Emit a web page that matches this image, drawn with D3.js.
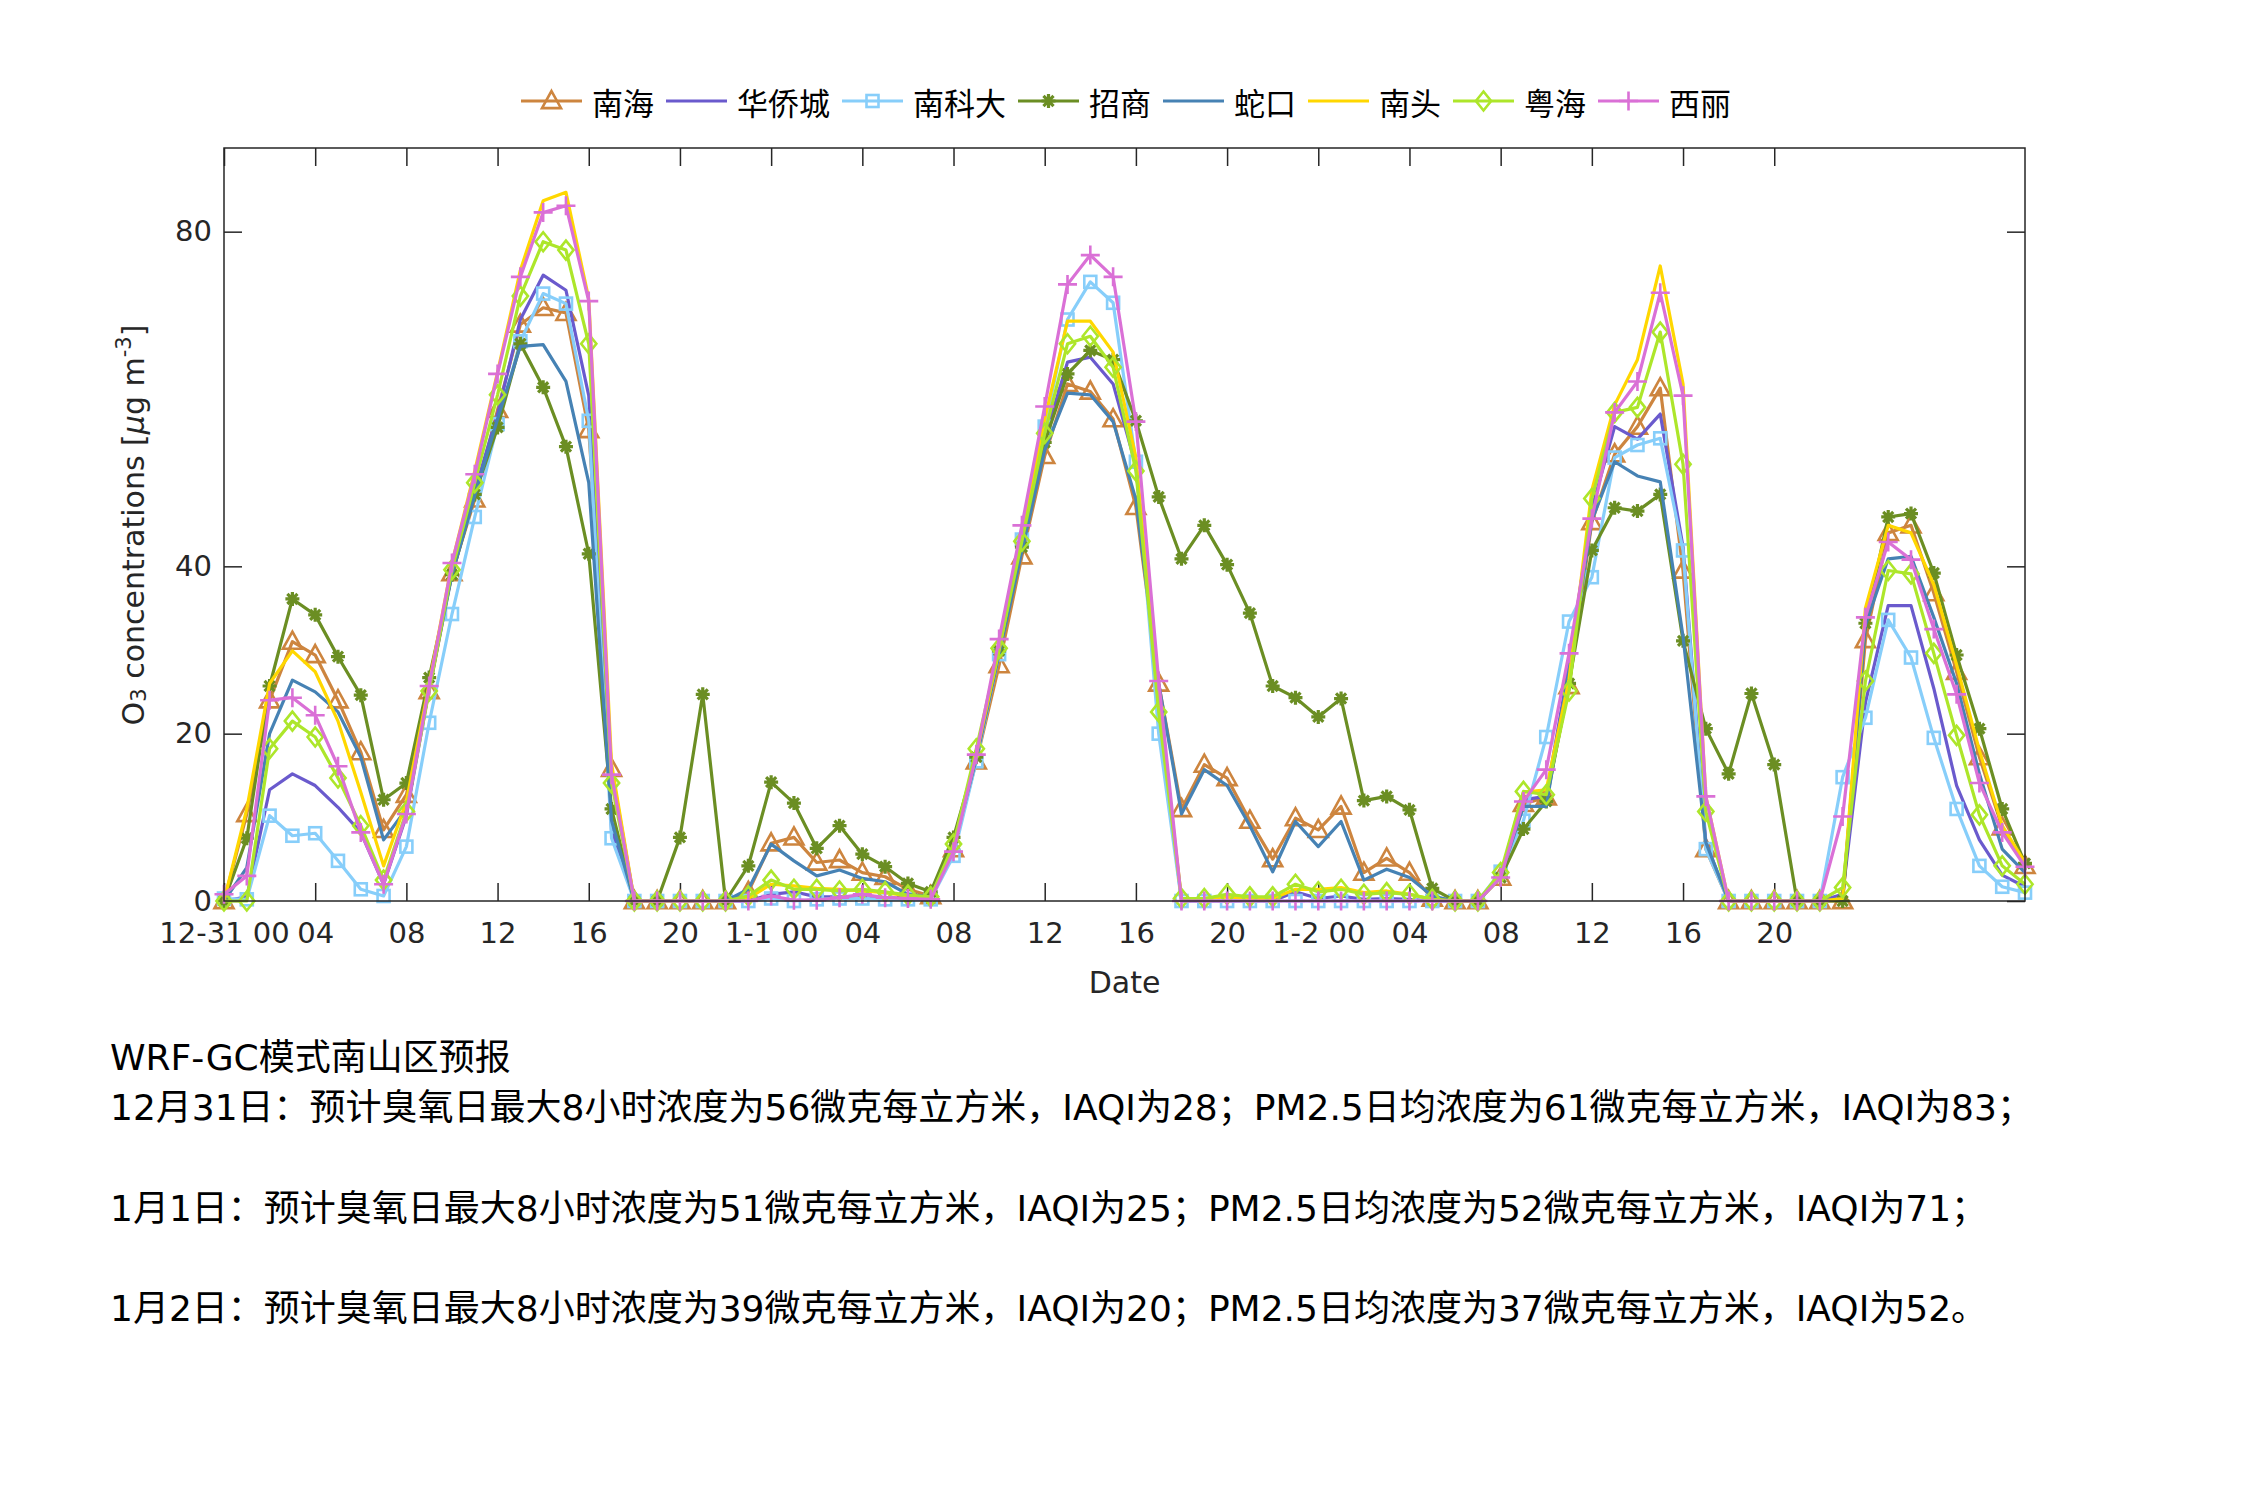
<!DOCTYPE html>
<html>
<head>
<meta charset="utf-8">
<script src="https://cdn.jsdelivr.net/npm/d3@7"></script>
<style>
  html, body { margin: 0; padding: 0; background: #fff; }
  svg { display: block; }
  text { font-family: "DejaVu Sans", "Noto Sans CJK SC", sans-serif; fill: #262626; }
  .cjk { font-family: "Noto Sans CJK SC", "Noto Sans", sans-serif; fill: #000; }
  .note { font-family: "DejaVu Sans", "Noto Sans CJK SC", sans-serif; fill: #000; }
</style>
</head>
<body>
<svg id="chart" width="2250" height="1500"></svg>
<script>
// ---------------- data ----------------
const hours = d3.range(80); // hourly steps from 12-31 00
const xTickValues = [0, 4, 8, 12, 16, 20, 24, 28, 32, 36, 40, 44, 48, 52, 56, 60, 64, 68];
const xTickLabels = ["12-31 00", "04", "08", "12", "16", "20", "1-1 00", "04", "08", "12", "16", "20", "1-2 00", "04", "08", "12", "16", "20"];
const yTickValues = [0, 20, 40, 80];

const seriesNames = ["南海", "华侨城", "南科大", "招商", "蛇口", "南头", "粤海", "西丽"];

const nanhai = [0,10.4,24,31,29.4,24,17.8,8.5,12.7,25.1,39.2,48,58.7,68.9,70.9,70.3,56.3,15.8,0,0,
  0,0,0,1.1,6.9,7.6,4.6,4.9,3.4,2.9,1.4,0.6,6.2,16.7,28.2,41.2,53.2,61.8,60.9,57.6,
  47.1,26,11,16.3,14.7,9.6,5.0,9.9,8.5,11.3,3.4,5.1,3.4,0.3,0,0,2.8,11.6,12.4,25.7,
  45.3,53.4,56.7,61.3,39.5,6.2,0,0,0,0,0,0,31.2,44,44.9,36.8,27.4,17.2,8.8,4.2];
const huaqiaocheng = [0,0.5,13.3,15.2,13.8,11.2,8.2,2,10.2,25.4,39.5,49,58.2,69.5,74.8,73,60.4,8.5,0,0,
  0,0,0,0,0.8,1.1,0.5,0.5,0.5,0.4,0.3,0.2,6.3,17,29.8,43,55.3,64.4,65,61.8,
  52,23,0,0,0,0,0,1.1,0.3,0.6,0.2,0.3,0.2,0,0,0,3,12.1,12.5,28.2,
  46.9,56.7,55.2,58.2,42.3,7,0,0,0,0,0,0.8,23.7,35.3,35.3,25.4,13.8,7.3,3.1,1.7];
const nankeda = [0.3,0.2,10.2,7.8,8.1,4.8,1.4,0.6,6.5,21.3,34.3,45.9,57,66.9,72.6,71.4,57.4,7.5,0,0,
  0,0,0,0,0.3,0,0.2,0.3,0.3,0.2,0.2,0.2,5.4,16.7,29.5,43.2,56.7,69.5,74,71.5,
  52.5,20,0,0,0,0,0,0,0,0,0,0,0,0,0,0,3.5,9.6,19.6,33.4,
  38.7,53,54.5,55.3,41.9,6.2,0,0,0,0,0,14.8,21.9,33.6,29.1,19.5,11,4.2,1.7,1.0];
const zhaoshang = [0,7.5,25.7,36.1,34.2,29.2,24.6,12.1,14.1,26.7,39,48.6,56.6,66.6,61.4,54.3,41.5,11,0,0,
  7.6,24.7,0,4.2,14.2,11.7,6.3,9.0,5.6,4.1,2.1,1.1,7.6,17.2,29.9,42.3,54.8,63,65.8,64.7,
  57.4,48.3,40.9,44.9,40.2,34.4,25.7,24.3,22,24.2,12,12.5,10.9,1.5,0,0,2.8,8.6,11.9,26,
  41.9,47,46.6,48.6,31.1,20.6,15.2,24.8,16.3,0,0,0,33.2,45.9,46.3,39.2,29.4,20.6,11,4.5];
const shekou = [0,4,20,26.4,25,22.6,17.2,7.3,11,25.4,39,48.5,57.6,66.3,66.5,62.1,50,9.6,0,0,
  0,0,0,1.4,6.8,4.8,3.0,3.7,2.7,2.3,0.8,0.5,6.5,17,29.5,41.8,53.9,60.7,60.5,57.3,
  48,26,10.4,15.7,13.8,9,3.5,9.5,6.5,9.5,2.5,3.8,2.8,0.6,0,0,3,11.3,11.3,27.7,
  45.5,52.5,50.8,50.1,31.6,7,0,0,0,0,0,0.3,33,40.9,41.2,33.9,26,15.2,6.2,3.4];
const nantou = [0,11,26,29.9,27.4,21.5,13,4.2,11.9,26,40.4,51.4,63.2,75.4,83.7,84.7,72,16.4,0,0,
  0,0,0,0.3,2,1.8,1.5,1.4,1.2,1.0,0.6,0.3,6.5,17.5,30,44,57.6,69.3,69.3,65.6,
  53,24,0.3,0.3,0.5,0.3,0.3,1.4,1.4,1.6,1.0,1.2,0.8,0.2,0,0,3,13,13.3,26.5,
  49.1,59.3,64.7,75.9,61.8,12.5,0,0,0,0,0,0.3,35,44.9,44,37.8,28.2,18,9,4.6];
const yuehai = [0,0,18.2,21.5,19.6,14.7,9,2.5,10.7,25.1,39.6,50,60.5,72.3,78.8,77.8,66.6,14.1,0,0,
  0,0,0,0.6,2.5,1.4,1.4,1.2,1.4,1.1,0.7,0.5,6.8,18.2,30.2,43,55.9,66.6,67.5,63.8,
  51.4,22.6,0.3,0.3,0.8,0.5,0.5,2.0,1.1,1.4,0.8,1.0,0.8,0.2,0,0,3.4,13.1,12.7,25.1,
  48.1,58.4,59,68,52.2,10.7,0,0,0,0,0,1.6,26.3,39.5,39.1,29.6,19.8,10.3,4.2,2.0];
const xili = [0.8,3.0,24,24.3,22.2,16.1,8.2,2.0,10.4,25.7,40.4,51,63,74.6,82.3,83.1,71.7,15.1,0,0,
  0,0,0,0,0.6,0.1,0.1,0.4,0.8,0.4,0.3,0.2,5.9,17.5,31.3,44.9,59.1,73.7,77.2,74.6,
  57.3,26.3,0,0,0,0,0,0,0,0,0,0,0,0,0,0,2.8,11.9,15.7,29.6,
  45.7,58.4,62.1,72.7,60.4,12.5,0,0,0,0,0,10.1,33.9,42.9,40.8,32.5,24.7,14.1,8.2,4.1];

const seriesValues = [nanhai, huaqiaocheng, nankeda, zhaoshang, shekou, nantou, yuehai, xili];
const seriesColors = ["#CD853F", "#6A5ACD", "#87CEFA", "#6B8E23", "#4682B4", "#FFD700", "#ADE62A", "#DA70D6"];
const seriesMarkers = ["triangle", "none", "square", "asterisk", "none", "none", "diamond", "plus"];

const noteLines = [
  "WRF-GC模式南山区预报",
  "12月31日：预计臭氧日最大8小时浓度为56微克每立方米，IAQI为28；PM2.5日均浓度为61微克每立方米，IAQI为83；",
  "1月1日：预计臭氧日最大8小时浓度为51微克每立方米，IAQI为25；PM2.5日均浓度为52微克每立方米，IAQI为71；",
  "1月2日：预计臭氧日最大8小时浓度为39微克每立方米，IAQI为20；PM2.5日均浓度为37微克每立方米，IAQI为52。"
];

// ---------------- layout ----------------
const svg = d3.select("#chart");
const L = 224, R = 2025, T = 148, B = 901;
const x = d3.scaleLinear().domain([0, 79]).range([L, R]);
const y = d3.scaleLinear().domain([0, 90]).range([B, T]);
const axisColor = "#262626";
const tickFont = 29;

function styleAxis(g) {
  g.select(".domain").remove();
  g.selectAll(".tick line").attr("stroke", axisColor).attr("stroke-width", 1.5);
  g.selectAll(".tick text").attr("font-size", tickFont).attr("fill", axisColor)
    .style("font-family", '"DejaVu Sans", sans-serif');
}

// bottom axis
svg.append("g").attr("transform", `translate(0,${B})`)
  .call(d3.axisBottom(x).tickValues(xTickValues)
    .tickFormat((d, i) => xTickLabels[i]).tickSize(-18).tickPadding(21))
  .call(styleAxis);
// top axis
svg.append("g").attr("transform", `translate(0,${T})`)
  .call(d3.axisTop(x).tickValues(xTickValues).tickFormat("").tickSize(-18))
  .call(styleAxis);
// left axis
svg.append("g").attr("transform", `translate(${L},0)`)
  .call(d3.axisLeft(y).tickValues(yTickValues).tickSize(-18).tickPadding(12))
  .call(styleAxis);
// right axis
svg.append("g").attr("transform", `translate(${R},0)`)
  .call(d3.axisRight(y).tickValues(yTickValues).tickFormat("").tickSize(-18))
  .call(styleAxis);

// clip
svg.append("clipPath").attr("id", "clip").append("rect")
  .attr("x", L - 12).attr("y", T).attr("width", R - L + 24).attr("height", B - T + 12);

// series
const line = d3.line().x((d, i) => x(hours[i])).y(d => y(d));
const plotG = svg.append("g").attr("clip-path", "url(#clip)");

function drawMarker(g, type, cx, cy, color) {
  const sw = 2.6;
  if (type === "triangle") {
    const s = 9.5;
    g.append("path").attr("d", `M${cx},${cy - s * 1.05}L${cx + s},${cy + s * 0.75}L${cx - s},${cy + s * 0.75}Z`)
      .attr("fill", "none").attr("stroke", color).attr("stroke-width", sw);
  } else if (type === "square") {
    const s = 6;
    g.append("rect").attr("x", cx - s).attr("y", cy - s).attr("width", 2 * s).attr("height", 2 * s)
      .attr("fill", "none").attr("stroke", color).attr("stroke-width", sw);
  } else if (type === "diamond") {
    const s = 9.5;
    g.append("path").attr("d", `M${cx},${cy - s}L${cx + s * 0.8},${cy}L${cx},${cy + s}L${cx - s * 0.8},${cy}Z`)
      .attr("fill", "none").attr("stroke", color).attr("stroke-width", sw);
  } else if (type === "plus") {
    const s = 9.5;
    g.append("path").attr("d", `M${cx - s},${cy}H${cx + s}M${cx},${cy - s}V${cy + s}`)
      .attr("fill", "none").attr("stroke", color).attr("stroke-width", sw);
  } else if (type === "asterisk") {
    const s = 7, d = s * 0.72;
    g.append("path").attr("d", `M${cx - s},${cy}H${cx + s}M${cx},${cy - s}V${cy + s}M${cx - d},${cy - d}L${cx + d},${cy + d}M${cx - d},${cy + d}L${cx + d},${cy - d}`)
      .attr("fill", "none").attr("stroke", color).attr("stroke-width", 3.2);
  }
}

seriesValues.forEach((vals, k) => {
  const g = plotG.append("g");
  g.append("path").datum(vals).attr("d", line)
    .attr("fill", "none").attr("stroke", seriesColors[k]).attr("stroke-width", 3.2)
    .attr("stroke-linejoin", "round");
  if (seriesMarkers[k] !== "none") {
    vals.forEach((v, i) => drawMarker(g, seriesMarkers[k], x(hours[i]), y(v), seriesColors[k]));
  }
});

// box
svg.append("rect").attr("x", L).attr("y", T).attr("width", R - L).attr("height", B - T)
  .attr("fill", "none").attr("stroke", axisColor).attr("stroke-width", 1.5);

// axis labels
svg.append("text").attr("x", (L + R) / 2).attr("y", 982).attr("text-anchor", "middle")
  .attr("dominant-baseline", "central").attr("font-size", 30).text("Date");

const yl = svg.append("text").attr("transform", "translate(133,525) rotate(-90)")
  .attr("text-anchor", "middle").attr("dominant-baseline", "central").attr("font-size", 30);
yl.append("tspan").text("O");
yl.append("tspan").attr("font-size", 21).attr("baseline-shift", "-30%").text("3");
yl.append("tspan").text(" concentrations [");
yl.append("tspan").attr("font-style", "italic").text("μ");
yl.append("tspan").text("g m");
yl.append("tspan").attr("font-size", 21).attr("baseline-shift", "45%").text("-3");
yl.append("tspan").text("]");

// legend
const leg = svg.append("g");
let lx = 521;
const ly = 101;
seriesNames.forEach((name, k) => {
  const g = leg.append("g");
  g.append("line").attr("x1", lx).attr("x2", lx + 61).attr("y1", ly).attr("y2", ly)
    .attr("stroke", seriesColors[k]).attr("stroke-width", 3.2);
  if (seriesMarkers[k] !== "none") drawMarker(g, seriesMarkers[k], lx + 30.5, ly, seriesColors[k]);
  const t = g.append("text").attr("class", "cjk").attr("x", lx + 71).attr("y", ly)
    .attr("dominant-baseline", "central").attr("font-size", 31).text(name);
  lx = lx + 71 + t.node().getComputedTextLength() + 12;
});

// notes
const noteY = [1057, 1107, 1208, 1308];
noteLines.forEach((s, i) => {
  svg.append("text").attr("class", "note").attr("x", 110).attr("y", noteY[i])
    .attr("dominant-baseline", "central").attr("font-size", 36).text(s);
});
</script>
</body>
</html>
